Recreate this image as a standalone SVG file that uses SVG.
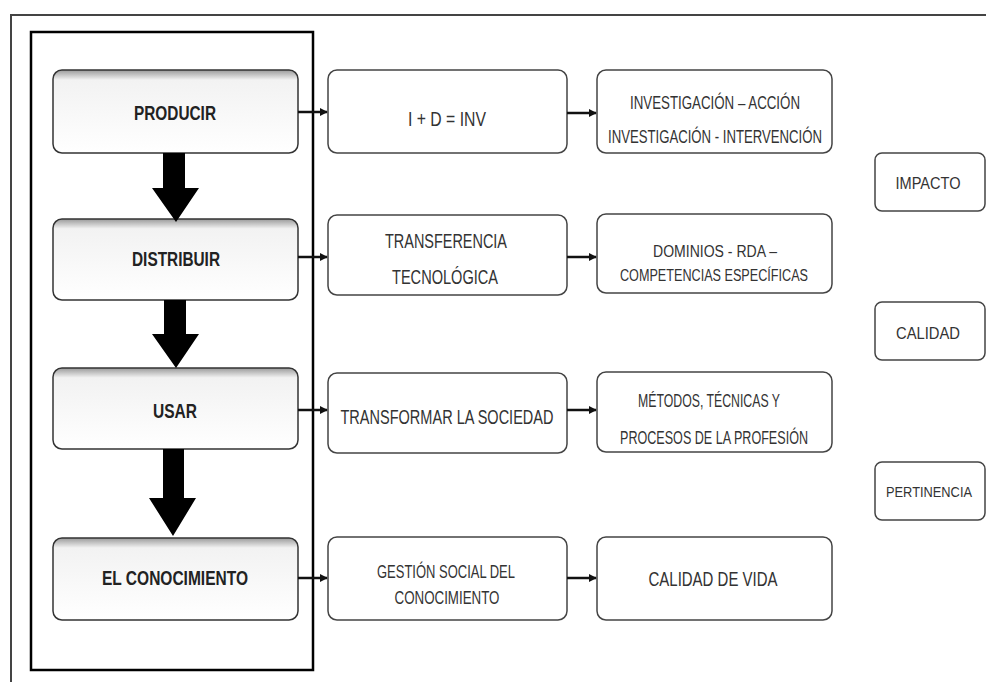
<svg xmlns="http://www.w3.org/2000/svg" width="986" height="682" viewBox="0 0 986 682">
<style>
  .lbox { fill: url(#lgrad); stroke: #333; stroke-width: 1.5; }
  .box { fill: #fff; stroke: #444; stroke-width: 1.5; }
  text { font-family: "Liberation Sans", Arial, sans-serif; text-anchor: middle; }
  .lt { font-weight: bold; font-size: 20px; fill: #222; }
  .t { font-size: 20px; fill: #333; }
  .ts { font-size: 18px; fill: #333; }
  .rs { font-size: 16px; fill: #333; }
  .con { stroke: #111; stroke-width: 2.5; fill: none; marker-end: url(#ah); }
  .big { fill: #000; }
</style>
<defs>
  <linearGradient id="lgrad" x1="0" y1="0" x2="0" y2="1">
    <stop offset="0" stop-color="#9a9a9a"/>
    <stop offset="0.12" stop-color="#f2f2f2"/>
    <stop offset="1" stop-color="#ffffff"/>
  </linearGradient>
  <marker id="ah" viewBox="0 0 10 10" refX="9" refY="5" markerWidth="3.2" markerHeight="3.2" orient="auto">
    <path d="M0,0 L10,5 L0,10 z" fill="#111"/>
  </marker>
</defs>
<rect width="986" height="682" fill="#fff"/>
<g id="frame">
  <path d="M11,682 V15 H986" fill="none" stroke="#444" stroke-width="2"/>
  <rect x="31" y="32" width="282" height="638" fill="none" stroke="#000" stroke-width="2.5"/>
</g>
<g id="producir">
  <rect class="lbox" x="53" y="70" width="245" height="83" rx="9"/>
  <text class="lt" x="175" y="120" textLength="82" lengthAdjust="spacingAndGlyphs">PRODUCIR</text>
</g>
<g id="distribuir">
  <rect class="lbox" x="53" y="219" width="245" height="81" rx="9"/>
  <text class="lt" x="176" y="266" textLength="88" lengthAdjust="spacingAndGlyphs">DISTRIBUIR</text>
</g>
<g id="usar">
  <rect class="lbox" x="53" y="368" width="245" height="81" rx="9"/>
  <text class="lt" x="175" y="418" textLength="44" lengthAdjust="spacingAndGlyphs">USAR</text>
</g>
<g id="conocimiento">
  <rect class="lbox" x="53" y="538" width="245" height="82" rx="9"/>
  <text class="lt" x="175" y="585" textLength="146" lengthAdjust="spacingAndGlyphs">EL CONOCIMIENTO</text>
</g>
<g id="inv">
  <rect class="box" x="328" y="70" width="239" height="83" rx="9"/>
  <text class="t" x="447" y="126" textLength="78" lengthAdjust="spacingAndGlyphs">I + D = INV</text>
</g>
<g id="transferencia">
  <rect class="box" x="328" y="215" width="239" height="80" rx="9"/>
  <text class="t" x="446" y="248" textLength="122" lengthAdjust="spacingAndGlyphs">TRANSFERENCIA</text>
  <text class="t" x="445" y="284" textLength="106" lengthAdjust="spacingAndGlyphs">TECNOLÓGICA</text>
</g>
<g id="transformar">
  <rect class="box" x="328" y="373" width="239" height="80" rx="9"/>
  <text class="t" x="447" y="424" textLength="213" lengthAdjust="spacingAndGlyphs">TRANSFORMAR LA SOCIEDAD</text>
</g>
<g id="gestion">
  <rect class="box" x="328" y="537" width="239" height="83" rx="9"/>
  <text class="ts" x="446" y="578" textLength="138" lengthAdjust="spacingAndGlyphs">GESTIÓN SOCIAL DEL</text>
  <text class="ts" x="447" y="604" textLength="105" lengthAdjust="spacingAndGlyphs">CONOCIMIENTO</text>
</g>
<g id="investigacion">
  <rect class="box" x="597" y="70" width="235" height="83" rx="9"/>
  <text class="ts" x="715" y="109" textLength="170" lengthAdjust="spacingAndGlyphs">INVESTIGACIÓN – ACCIÓN</text>
  <text class="ts" x="715" y="143" textLength="214" lengthAdjust="spacingAndGlyphs">INVESTIGACIÓN - INTERVENCIÓN</text>
</g>
<g id="dominios">
  <rect class="box" x="597" y="214" width="235" height="79" rx="9"/>
  <text class="rs" x="715" y="257" textLength="124" lengthAdjust="spacingAndGlyphs">DOMINIOS - RDA –</text>
  <text class="rs" x="714" y="281" textLength="188" lengthAdjust="spacingAndGlyphs">COMPETENCIAS ESPECÍFICAS</text>
</g>
<g id="metodos">
  <rect class="box" x="597" y="372" width="235" height="80" rx="9"/>
  <text class="ts" x="709" y="407" textLength="142" lengthAdjust="spacingAndGlyphs">MÉTODOS, TÉCNICAS Y</text>
  <text class="ts" x="714" y="444" textLength="188" lengthAdjust="spacingAndGlyphs">PROCESOS DE LA PROFESIÓN</text>
</g>
<g id="calidadvida">
  <rect class="box" x="597" y="537" width="235" height="83" rx="9"/>
  <text class="t" x="713" y="586" textLength="129" lengthAdjust="spacingAndGlyphs">CALIDAD DE VIDA</text>
</g>
<g id="impacto">
  <rect class="box" x="875" y="153" width="110" height="58" rx="7"/>
  <text class="rs" x="928" y="189" textLength="65" lengthAdjust="spacingAndGlyphs">IMPACTO</text>
</g>
<g id="calidad">
  <rect class="box" x="875" y="302" width="110" height="58" rx="7"/>
  <text class="rs" x="928" y="339" textLength="64" lengthAdjust="spacingAndGlyphs">CALIDAD</text>
</g>
<g id="pertinencia">
  <rect class="box" x="875" y="462" width="110" height="58" rx="7"/>
  <text class="rs" x="929" y="497" style="font-size:14px" textLength="86" lengthAdjust="spacingAndGlyphs">PERTINENCIA</text>
</g>
<g id="connectors">
  <path class="big" d="M163,153 H185 V188 H199 L176,222 L152,188 H163 Z"/>
  <path class="big" d="M164,300 H186 V334 H199 L176,368 L152,334 H164 Z"/>
  <path class="big" d="M163,449 H184 V498 H196 L173,536 L149,498 H163 Z"/>
  <path class="con" d="M298,112 H327"/>
  <path class="con" d="M298,257 H327"/>
  <path class="con" d="M298,410 H327"/>
  <path class="con" d="M298,578 H327"/>
  <path class="con" d="M567,113 H596"/>
  <path class="con" d="M567,257 H596"/>
  <path class="con" d="M567,410 H596"/>
  <path class="con" d="M567,578 H596"/>
</g>
</svg>
